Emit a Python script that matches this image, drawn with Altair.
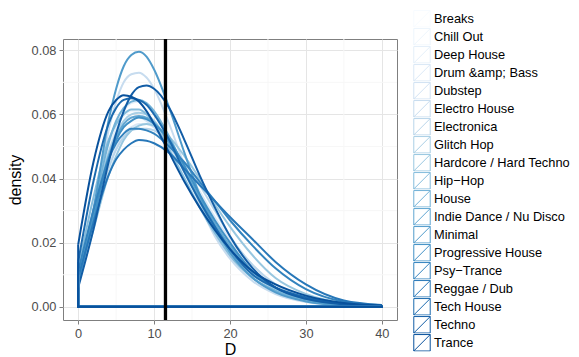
import altair as alt
import pandas as pd

genres = ["Breaks", "Chill Out", "Deep House", "Drum &amp; Bass", "Dubstep",
          "Electro House", "Electronica", "Glitch Hop", "Hardcore / Hard Techno",
          "Hip\u2212Hop", "House", "Indie Dance / Nu Disco", "Minimal",
          "Progressive House", "Psy\u2212Trance", "Reggae / Dub", "Tech House",
          "Techno", "Trance"]

x_points = [0, 2, 4, 5, 6, 7, 8, 9, 10, 12, 14, 16, 18, 20, 23, 26, 30, 35, 40]

breaks = [0.009, 0.028, 0.046, 0.052, 0.056, 0.0578, 0.058, 0.0575, 0.056, 0.051, 0.043, 0.035, 0.027, 0.020, 0.012, 0.0065, 0.0028, 0.0009, 0.0003]
chill_out = [0.011, 0.032, 0.050, 0.056, 0.0595, 0.061, 0.0605, 0.059, 0.057, 0.050, 0.041, 0.032, 0.024, 0.017, 0.010, 0.0055, 0.0022, 0.0007, 0.0002]
deep_house = [0.008, 0.028, 0.048, 0.056, 0.061, 0.0635, 0.064, 0.063, 0.0605, 0.053, 0.043, 0.033, 0.024, 0.017, 0.009, 0.0045, 0.0018, 0.0005, 0.0002]
drum_bass = [0.008, 0.026, 0.044, 0.050, 0.054, 0.056, 0.057, 0.057, 0.056, 0.051, 0.044, 0.036, 0.028, 0.021, 0.013, 0.007, 0.003, 0.001, 0.0003]
dubstep = [0.010, 0.030, 0.048, 0.054, 0.0575, 0.059, 0.059, 0.058, 0.056, 0.050, 0.042, 0.034, 0.026, 0.019, 0.011, 0.006, 0.0025, 0.0008, 0.0003]
electro_house = [0.008, 0.030, 0.055, 0.064, 0.070, 0.0725, 0.073, 0.0715, 0.068, 0.057, 0.044, 0.032, 0.022, 0.015, 0.008, 0.004, 0.0015, 0.0005, 0.0002]
electronica = [0.009, 0.026, 0.043, 0.049, 0.053, 0.055, 0.0555, 0.0555, 0.055, 0.051, 0.045, 0.038, 0.030, 0.022, 0.013, 0.007, 0.003, 0.001, 0.0003]
glitch_hop = [0.010, 0.030, 0.048, 0.054, 0.058, 0.060, 0.0605, 0.060, 0.058, 0.051, 0.042, 0.033, 0.025, 0.018, 0.010, 0.0055, 0.0022, 0.0007, 0.0002]
hardcore = [0.007, 0.024, 0.041, 0.047, 0.052, 0.055, 0.0565, 0.057, 0.0565, 0.053, 0.047, 0.040, 0.032, 0.025, 0.016, 0.009, 0.004, 0.0012, 0.0004]
hip_hop = [0.012, 0.034, 0.052, 0.057, 0.060, 0.0615, 0.0615, 0.060, 0.057, 0.049, 0.040, 0.031, 0.023, 0.016, 0.009, 0.005, 0.002, 0.0006, 0.0002]
house = [0.009, 0.030, 0.051, 0.058, 0.062, 0.064, 0.0645, 0.0635, 0.061, 0.053, 0.043, 0.033, 0.024, 0.017, 0.009, 0.005, 0.002, 0.0006, 0.0002]
indie_dance = [0.010, 0.029, 0.047, 0.053, 0.057, 0.059, 0.0595, 0.059, 0.0575, 0.051, 0.043, 0.034, 0.026, 0.019, 0.011, 0.006, 0.0025, 0.0008, 0.0003]
minimal = [0.007, 0.030, 0.058, 0.068, 0.075, 0.0785, 0.0795, 0.078, 0.074, 0.062, 0.048, 0.035, 0.025, 0.017, 0.009, 0.0045, 0.0017, 0.0005, 0.0002]
progressive_house = [0.008, 0.027, 0.046, 0.052, 0.056, 0.058, 0.059, 0.0585, 0.057, 0.052, 0.044, 0.035, 0.027, 0.020, 0.011, 0.006, 0.0025, 0.0008, 0.0003]
psy_trance = [0.011, 0.030, 0.046, 0.051, 0.054, 0.0555, 0.0555, 0.055, 0.054, 0.050, 0.045, 0.039, 0.033, 0.027, 0.019, 0.012, 0.0055, 0.0016, 0.0005]
reggae_dub = [0.009, 0.026, 0.041, 0.046, 0.049, 0.051, 0.052, 0.0518, 0.051, 0.048, 0.043, 0.038, 0.033, 0.028, 0.021, 0.014, 0.007, 0.002, 0.0006]
tech_house = [0.014, 0.039, 0.057, 0.062, 0.0645, 0.065, 0.0645, 0.063, 0.060, 0.052, 0.042, 0.033, 0.025, 0.018, 0.010, 0.006, 0.003, 0.001, 0.0003]
techno = [0.006, 0.024, 0.045, 0.054, 0.061, 0.066, 0.0685, 0.069, 0.068, 0.062, 0.052, 0.041, 0.031, 0.022, 0.012, 0.006, 0.0025, 0.0008, 0.0003]
trance = [0.0194, 0.045, 0.061, 0.0645, 0.066, 0.0655, 0.064, 0.061, 0.057, 0.048, 0.039, 0.031, 0.024, 0.018, 0.011, 0.007, 0.0035, 0.0012, 0.0004]

series = [breaks, chill_out, deep_house, drum_bass, dubstep, electro_house,
          electronica, glitch_hop, hardcore, hip_hop, house, indie_dance,
          minimal, progressive_house, psy_trance, reggae_dub, tech_house,
          techno, trance]

vline_x = [11.5]
x_major = [0, 10, 20, 30, 40]
x_minor = [5, 15, 25, 35]
y_major = [0.0, 0.02, 0.04, 0.06, 0.08]
y_minor = [0.01, 0.03, 0.05, 0.07]

# colour ramp (Blues)
blues = ["#F7FBFF", "#DEEBF7", "#C6DBEF", "#9ECAE1", "#6BAED6", "#4292C6", "#2171B5", "#08519C"]


def hex2rgb(h):
    return [int(h[i:i + 2], 16) for i in (1, 3, 5)]


colors = []
n = len(genres)
for i in range(n):
    t = i * (len(blues) - 1) / (n - 1)
    k = min(int(t), len(blues) - 2)
    f = t - k
    a, b = hex2rgb(blues[k]), hex2rgb(blues[k + 1])
    c = [round(a[j] + (b[j] - a[j]) * f) for j in range(3)]
    colors.append("#%02x%02x%02x" % tuple(c))

rows = []
base_rows = []
for gi, (g, vals) in enumerate(zip(genres, series)):
    for xi, (xv, yv) in enumerate(zip(x_points, vals)):
        rows.append({"genre": g, "gi": gi, "D": xv, "density": yv, "o": xi})
    pts = [(x_points[0], vals[0]), (x_points[0], 0.0), (x_points[-1], 0.0), (x_points[-1], vals[-1])]
    for k, (xv, yv) in enumerate(pts):
        base_rows.append({"genre": g, "gi": gi, "D": xv, "density": yv, "o": k})

df = pd.DataFrame(rows)
base_df = pd.DataFrame(base_rows)

xscale = alt.Scale(domain=[-2, 42], nice=False, zero=False)
yscale = alt.Scale(domain=[-0.0041, 0.0835], nice=False, zero=False)

color = alt.Color(
    "genre:N",
    scale=alt.Scale(domain=genres, range=colors),
    sort=genres,
    legend=alt.Legend(
        title=None, orient="none", legendX=350, legendY=-29,
        symbolType="M-1,-1H1V1H-1Z M-1,1L1,-1", symbolSize=270,
        symbolStrokeWidth=1, symbolFillColor="transparent",
        labelFontSize=12.8, labelFont="Liberation Sans", labelColor="#000000",
        labelOffset=3, rowPadding=0, clipHeight=17.55, padding=0, labelLimit=300,
    ),
)

xaxis = alt.Axis(values=x_major, title="D", grid=True, gridColor="#E5E5E5",
                 domain=False, tickColor="#7F7F7F", tickSize=4,
                 labelColor="#4D4D4D", labelFontSize=12.8, labelFont="Liberation Sans",
                 titleFontSize=16, titleFont="Liberation Sans", titleFontWeight="normal",
                 titleColor="#000000", labelPadding=3, titlePadding=2)
yaxis = alt.Axis(values=y_major, title="density", format=".2f", grid=True, gridColor="#E5E5E5",
                 domain=False, tickColor="#7F7F7F", tickSize=4,
                 labelColor="#4D4D4D", labelFontSize=12.8, labelFont="Liberation Sans",
                 titleFontSize=16, titleFont="Liberation Sans", titleFontWeight="normal",
                 titleColor="#000000", labelPadding=3, titlePadding=8)

minor_x = alt.Chart(pd.DataFrame({"D": x_minor})).mark_rule(color="#F7F7F7", strokeWidth=1).encode(
    x=alt.X("D:Q", scale=xscale, axis=xaxis))
minor_y = alt.Chart(pd.DataFrame({"density": y_minor})).mark_rule(color="#F7F7F7", strokeWidth=1).encode(
    y=alt.Y("density:Q", scale=yscale, axis=yaxis))

curves = alt.Chart(df).mark_line(strokeWidth=2, interpolate="monotone", clip=True).encode(
    x=alt.X("D:Q", scale=xscale, axis=xaxis),
    y=alt.Y("density:Q", scale=yscale, axis=yaxis),
    color=color,
    order=alt.Order("o:Q"),
)

bases = alt.Chart(base_df).mark_line(strokeWidth=2, interpolate="linear", clip=True).encode(
    x=alt.X("D:Q", scale=xscale),
    y=alt.Y("density:Q", scale=yscale),
    color=alt.Color("genre:N", scale=alt.Scale(domain=genres, range=colors), legend=None),
    order=alt.Order("o:Q"),
)

vline = alt.Chart(pd.DataFrame({"D": vline_x})).mark_rule(color="black", strokeWidth=3.3).encode(
    x=alt.X("D:Q", scale=xscale))

chart = alt.layer(minor_x, minor_y, curves, bases, vline).properties(
    width=334, height=281,
    autosize=alt.AutoSizeParams(type="none"),
    padding={"left": 55, "top": 31, "right": 174, "bottom": 37},
    background="white",
).configure_view(stroke="#7F7F7F", strokeWidth=1)

chart.save("out.html", embed_options={"renderer": "svg", "actions": False})
